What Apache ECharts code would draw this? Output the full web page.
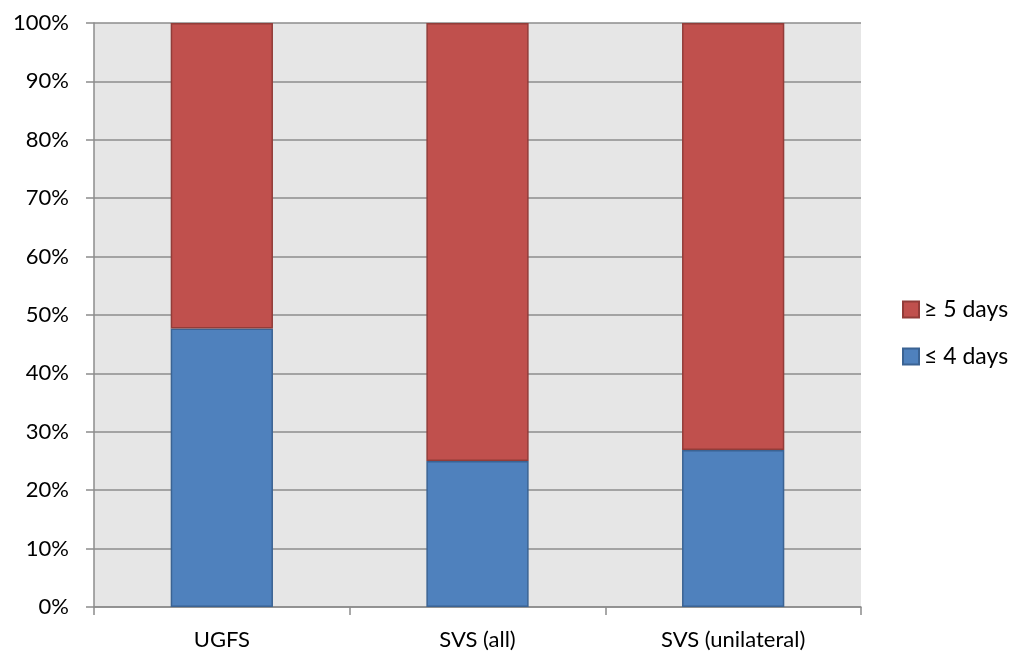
<!DOCTYPE html>
<html>
<head>
<meta charset="utf-8">
<script src="https://cdn.jsdelivr.net/npm/echarts@6/dist/echarts.min.js"></script>
<style>
  html, body { margin: 0; padding: 0; background: #ffffff; }
  #chart { width: 1016px; height: 655px; }
</style>
</head>
<body>
<div id="chart"></div>
<script>
// Share of patients by length of stay, per procedure group (percent)
const categories = ['UGFS', 'SVS (all)', 'SVS (unilateral)'];
const shortStay = [47.7, 25.0, 26.9];   // ≤ 4 days
const longStay = [52.3, 75.0, 73.1];    // ≥ 5 days
const yTicks = [0, 10, 20, 30, 40, 50, 60, 70, 80, 90, 100];

const FONT = 'Lato';
const axisGray = '#8c8c8c';

const chart = echarts.init(document.getElementById('chart'), null, { renderer: 'canvas' });

chart.setOption({
  backgroundColor: '#ffffff',
  animation: false,
  textStyle: { fontFamily: FONT },
  grid: {
    left: 94, right: 155, top: 23, bottom: 48,
    show: true, backgroundColor: '#e6e6e6', borderWidth: 0
  },
  legend: {
    orient: 'vertical',
    left: 902, top: 298,
    padding: 0,
    itemWidth: 16, itemHeight: 16, itemGap: 24,
    icon: 'rect',
    textStyle: { fontFamily: FONT, fontSize: 23, color: '#000000', padding: [0, 0, 0, 0] },
    data: ['≥ 5 days', '≤ 4 days']
  },
  xAxis: {
    type: 'category',
    data: categories,
    boundaryGap: true,
    axisLine: { show: true, lineStyle: { color: axisGray, width: 1.5 } },
    axisTick: { show: true, length: 8, alignWithLabel: false, lineStyle: { color: axisGray, width: 1.5 } },
    axisLabel: { color: '#000000', fontSize: 22, fontFamily: FONT, margin: 22 },
    splitLine: { show: false }
  },
  yAxis: {
    type: 'value',
    min: yTicks[0], max: yTicks[yTicks.length - 1], interval: 10,
    axisLine: { show: true, lineStyle: { color: axisGray, width: 1.5 } },
    axisTick: { show: true, length: 8, lineStyle: { color: axisGray, width: 1.5 } },
    axisLabel: { color: '#000000', fontSize: 22, fontFamily: FONT, margin: 25, formatter: v => v + '%' },
    splitLine: { show: true, lineStyle: { color: axisGray, width: 1.5 } }
  },
  series: [
    {
      name: '≤ 4 days',
      type: 'bar',
      stack: 'share',
      barWidth: '40%',
      data: shortStay,
      itemStyle: { color: '#4f81bd', borderColor: '#3b6393', borderWidth: 1.5 }
    },
    {
      name: '≥ 5 days',
      type: 'bar',
      stack: 'share',
      barWidth: '40%',
      data: longStay,
      itemStyle: { color: '#c0504d', borderColor: '#923c39', borderWidth: 1.5 }
    }
  ]
});
</script>
</body>
</html>
